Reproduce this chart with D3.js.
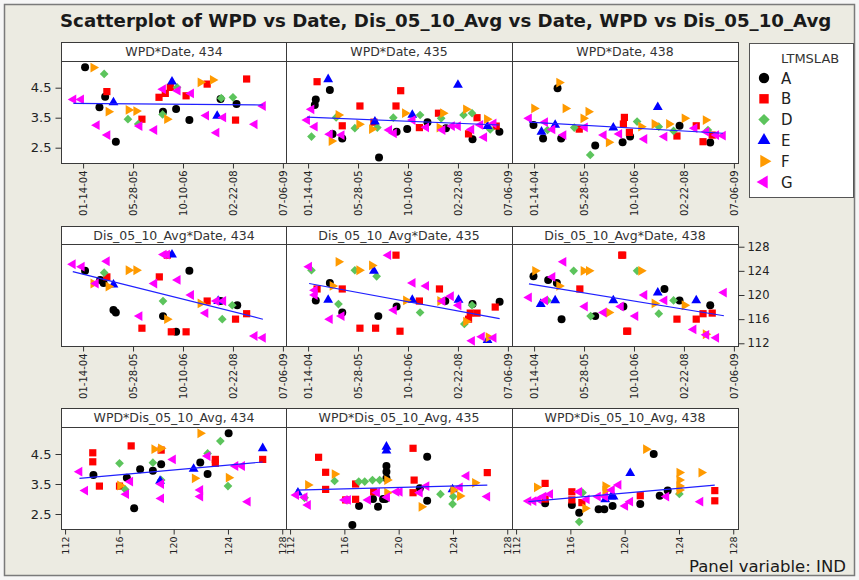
<!DOCTYPE html>
<html>
<head>
<meta charset="utf-8">
<script src="https://cdn.jsdelivr.net/npm/d3@7"></script>
<style>
  body { margin: 0; background: #f6f6f6; }
  text { font-family: "DejaVu Sans", sans-serif; fill: #1a1a1a; }
</style>
</head>
<body>
<svg id="chart" width="859" height="580"></svg>
<script>
// groups (LTMSLAB) and panels (IND)
var labs = ["A", "B", "D", "E", "F", "G"];
var inds = ["434", "435", "438"];
var dateTicks = ["01-14-04", "05-28-05", "10-10-06", "02-22-08", "07-06-09"];
var disTicks = [112, 116, 120, 124, 128];
var wpdTicks = [2.5, 3.5, 4.5];

// WPD vs Date  [date, WPD, lab]
var wpdDate434 = [
  ["2004-02-03",5.18,"A"],["2004-04-26",5.17,"F"],["2004-08-12",4.96,"D"],["2003-10-09",4.11,"G"],
  ["2003-12-25",4.11,"G"],["2004-06-26",3.85,"A"],["2004-08-22",4.20,"A"],["2004-09-08",4.37,"B"],
  ["2004-11-13",4.01,"E"],["2004-09-24",3.70,"F"],["2004-05-30",3.25,"G"],["2004-09-14",2.92,"G"],
  ["2004-12-07",2.70,"A"],["2005-04-13",3.76,"F"],["2005-06-29",3.72,"F"],["2005-04-07",3.45,"D"],
  ["2005-08-25",3.45,"B"],["2005-07-19",3.29,"D"],["2005-08-01",3.22,"G"],["2005-12-27",3.09,"G"],
  ["2006-02-12",4.18,"B"],["2006-04-16",4.31,"B"],["2006-06-05",4.51,"B"],["2006-03-24",4.45,"G"],
  ["2006-06-22",4.70,"E"],["2006-08-12",4.51,"D"],["2006-08-18",4.40,"G"],["2006-03-24",3.70,"A"],
  ["2006-03-20",3.61,"D"],["2006-05-03",3.45,"F"],["2006-08-02",3.79,"A"],["2006-12-13",3.42,"A"],
  ["2006-11-10",4.23,"B"],["2006-12-30",4.31,"G"],["2007-04-03",4.68,"F"],["2007-08-04",4.76,"F"],
  ["2007-06-09",4.62,"B"],["2007-05-30",3.57,"G"],["2007-09-10",3.00,"G"],["2007-09-17",3.56,"E"],
  ["2007-11-17",3.51,"G"],["2007-10-21",4.12,"A"],["2007-10-28",4.15,"D"],["2008-02-22",4.18,"D"],
  ["2008-03-29",3.96,"A"],["2008-03-19",3.42,"B"],["2008-07-08",4.79,"B"],["2008-09-26",3.28,"G"],
  ["2008-12-18",3.89,"G"]
];
var wpdDate435 = [
  ["2004-04-13",4.70,"B"],["2004-08-02",4.78,"E"],["2004-08-19",4.42,"A"],["2004-03-31",4.11,"A"],
  ["2004-03-21",3.92,"A"],["2004-02-17",3.78,"G"],["2004-01-04",3.42,"G"],["2004-03-21",3.20,"G"],
  ["2004-02-17",2.87,"D"],["2004-09-15",2.96,"A"],["2004-12-21",2.81,"A"],["2004-09-05",2.72,"F"],
  ["2004-08-19",2.95,"G"],["2004-12-15",2.92,"G"],["2004-11-13",3.59,"F"],["2004-10-21",3.51,"D"],
  ["2004-12-21",3.23,"B"],["2005-06-16",3.89,"B"],["2005-06-09",3.28,"F"],["2005-04-26",3.15,"D"],
  ["2005-11-13",3.37,"E"],["2005-11-03",3.35,"B"],["2005-10-14",3.12,"F"],["2005-12-07",3.17,"D"],
  ["2005-12-24",2.17,"A"],["2006-05-16",3.50,"D"],["2006-06-12",3.89,"B"],["2006-07-29",4.40,"B"],
  ["2006-04-05",3.09,"G"],["2006-05-22",2.98,"G"],["2006-06-18",3.03,"A"],["2006-09-09",3.65,"F"],
  ["2006-10-02",3.12,"A"],["2006-11-22",3.59,"E"],["2006-11-26",3.42,"G"],["2007-02-08",3.59,"D"],
  ["2007-02-01",3.17,"B"],["2007-04-10",3.18,"G"],["2007-04-23",3.35,"A"],["2007-08-11",3.65,"B"],
  ["2007-09-25",3.65,"F"],["2007-09-07",3.48,"D"],["2007-08-21",3.17,"F"],["2007-10-25",3.15,"A"],
  ["2007-09-21",3.09,"G"],["2007-12-24",3.22,"G"],["2008-02-22",3.22,"G"],["2008-02-22",4.59,"E"],
  ["2008-05-12",3.78,"F"],["2008-04-18",3.59,"D"],["2008-07-12",3.65,"D"],["2008-08-31",3.50,"B"],
  ["2008-07-05",3.11,"G"],["2008-10-03",3.26,"G"],["2008-06-07",2.96,"B"],["2008-07-17",2.78,"A"],
  ["2008-11-11",2.85,"G"],["2008-12-08",3.45,"F"],["2008-12-14",3.22,"E"],["2009-01-10",3.11,"D"],
  ["2009-03-11",3.22,"B"],["2009-02-13",3.31,"G"],["2009-04-12",3.03,"A"]
];
var wpdDate438 = [
  ["2004-09-05",4.48,"A"],["2004-09-21",4.67,"F"],["2004-01-14",3.81,"F"],["2004-11-23",3.81,"F"],
  ["2005-07-10",3.70,"F"],["2005-05-21",3.48,"F"],["2003-11-24",3.48,"G"],["2004-01-08",3.26,"A"],
  ["2004-05-03",3.35,"G"],["2004-08-12",3.26,"E"],["2004-03-28",3.03,"E"],["2004-04-13",2.81,"A"],
  ["2004-05-27",3.09,"D"],["2004-07-16",3.11,"G"],["2004-11-03",2.92,"G"],["2004-10-11",2.81,"A"],
  ["2005-02-19",3.17,"D"],["2005-04-10",3.12,"B"],["2005-06-06",3.18,"G"],["2005-09-17",2.57,"A"],
  ["2005-07-29",2.26,"D"],["2006-01-30",2.68,"F"],["2005-12-11",2.92,"G"],["2006-03-17",3.17,"E"],
  ["2006-05-16",2.96,"G"],["2006-06-18",2.68,"A"],["2006-07-06",3.51,"B"],["2006-06-26",3.29,"B"],
  ["2006-08-25",3.01,"B"],["2006-09-01",2.87,"A"],["2006-11-10",3.37,"D"],["2006-12-20",3.20,"F"],
  ["2007-01-22",2.79,"G"],["2007-06-05",3.85,"E"],["2007-05-03",3.29,"F"],["2007-06-15",3.20,"D"],
  ["2007-08-11",2.87,"G"],["2007-09-25",3.29,"F"],["2007-11-10",3.06,"D"],["2008-01-09",3.23,"A"],
  ["2007-12-14",2.89,"B"],["2008-02-28",3.48,"F"],["2008-06-24",3.23,"B"],["2008-06-07",3.15,"G"],
  ["2008-09-26",3.42,"F"],["2008-08-31",2.70,"B"],["2008-10-03",3.03,"G"],["2009-01-10",2.92,"G"],
  ["2009-03-18",2.90,"G"],["2008-12-01",2.92,"B"],["2008-11-11",2.67,"A"],["2008-10-19",3.09,"D"]
];

// Dis_05_10_Avg vs Date  [date, Dis, lab]
var disDate434 = [
  ["2003-10-03",125.1,"G"],["2004-01-01",124.7,"G"],["2004-02-03",124.0,"A"],["2004-09-08",125.6,"G"],
  ["2004-08-12",123.7,"D"],["2004-09-08",123.0,"B"],["2004-07-03",122.5,"A"],["2004-08-06",122.0,"A"],
  ["2004-04-26",121.9,"F"],["2004-05-21",121.9,"G"],["2004-09-24",121.4,"F"],["2004-11-13",121.7,"E"],
  ["2004-11-13",117.5,"A"],["2004-12-07",117.1,"A"],["2005-04-13",124.1,"F"],["2005-06-29",124.1,"F"],
  ["2005-08-01",116.5,"G"],["2005-08-25",114.5,"B"],["2006-03-24",119.0,"D"],["2006-02-15",123.0,"B"],
  ["2005-12-27",121.9,"G"],["2006-05-06",126.6,"B"],["2006-03-31",126.7,"G"],["2006-05-03",126.7,"G"],
  ["2006-06-22",126.7,"E"],["2006-03-24",116.5,"A"],["2006-05-03",116.0,"F"],["2006-06-15",113.9,"B"],
  ["2006-11-10",113.9,"B"],["2006-08-02",113.9,"A"],["2006-08-18",122.5,"G"],["2006-12-13",124.0,"A"],
  ["2006-12-30",120.0,"G"],["2007-04-03",118.6,"F"],["2007-06-09",119.0,"B"],["2007-05-23",117.0,"G"],
  ["2007-09-10",119.0,"G"],["2007-11-17",119.0,"G"],["2007-09-27",119.0,"E"],["2007-11-07",116.0,"D"],
  ["2008-02-15",118.3,"D"],["2008-04-05",118.3,"A"],["2007-10-21",119.0,"A"],["2008-03-19",116.0,"B"],
  ["2008-07-08",116.9,"B"],["2008-09-26",113.2,"G"],["2008-12-18",112.9,"G"]
];
var disDate435 = [
  ["2004-01-24",124.7,"G"],["2004-02-17",124.1,"D"],["2004-04-13",121.0,"B"],["2004-03-21",120.8,"G"],
  ["2004-03-21",120.0,"G"],["2004-03-31",119.1,"A"],["2004-08-19",122.0,"A"],["2004-09-15",121.5,"F"],
  ["2004-08-02",119.2,"E"],["2004-11-13",118.5,"D"],["2004-11-13",125.5,"F"],["2004-12-21",121.0,"B"],
  ["2004-12-21",117.1,"A"],["2004-12-15",116.5,"G"],["2004-08-19",116.0,"G"],["2005-04-26",124.1,"D"],
  ["2005-06-09",124.1,"F"],["2005-06-16",114.5,"B"],["2005-11-20",114.5,"B"],["2005-10-14",124.9,"F"],
  ["2005-11-03",124.0,"E"],["2005-11-30",123.1,"D"],["2005-12-17",116.5,"A"],["2006-03-27",126.6,"G"],
  ["2006-06-12",126.6,"B"],["2006-07-22",114.0,"B"],["2006-06-18",118.1,"A"],["2006-05-22",117.5,"G"],
  ["2006-09-20",119.1,"F"],["2006-11-22",119.2,"E"],["2007-02-01",119.0,"B"],["2007-02-08",117.1,"D"],
  ["2006-11-26",122.0,"G"],["2007-04-10",121.5,"G"],["2007-08-21",121.0,"B"],["2007-08-28",119.0,"F"],
  ["2007-10-18",119.0,"A"],["2007-09-21",119.0,"G"],["2007-12-14",119.8,"G"],["2008-02-28",119.2,"E"],
  ["2008-02-28",118.3,"G"],["2008-07-12",118.3,"D"],["2008-07-17",118.5,"A"],["2008-06-24",117.0,"B"],
  ["2008-08-31",117.0,"B"],["2008-06-07",116.0,"B"],["2008-04-26",115.2,"D"],["2008-05-13",115.6,"F"],
  ["2008-07-12",112.4,"G"],["2008-10-19",113.1,"G"],["2009-02-13",112.9,"G"],["2008-12-14",112.5,"E"],
  ["2008-12-24",113.0,"F"],["2009-03-01",118.0,"B"],["2009-04-14",118.9,"A"]
];
var disDate438 = [
  ["2003-11-24",119.6,"G"],["2004-01-08",123.1,"A"],["2004-01-24",124.0,"F"],["2004-03-21",118.5,"E"],
  ["2004-05-03",119.1,"G"],["2004-05-27",119.1,"D"],["2004-07-16",123.0,"G"],["2004-08-12",119.1,"E"],
  ["2004-06-03",122.5,"A"],["2004-08-29",122.0,"A"],["2004-09-21",121.5,"F"],["2004-10-15",116.0,"A"],
  ["2004-11-03",125.5,"G"],["2005-02-13",124.0,"D"],["2005-05-23",124.0,"F"],["2005-07-15",124.0,"F"],
  ["2005-04-16",121.0,"B"],["2005-06-06",118.1,"G"],["2005-08-02",116.5,"D"],["2005-09-17",116.5,"A"],
  ["2005-12-11",117.1,"G"],["2006-01-30",117.1,"F"],["2006-03-17",119.1,"E"],["2006-06-01",118.1,"G"],
  ["2006-06-26",118.1,"A"],["2006-06-09",126.6,"B"],["2006-06-19",126.6,"B"],["2006-07-29",114.0,"B"],
  ["2006-08-08",114.0,"B"],["2006-10-24",116.5,"G"],["2006-11-10",124.0,"D"],["2006-12-20",124.0,"F"],
  ["2007-01-22",120.0,"G"],["2007-06-05",120.4,"E"],["2007-05-03",118.6,"F"],["2007-08-11",121.0,"A"],
  ["2007-06-15",116.9,"D"],["2007-08-11",119.1,"G"],["2007-11-10",119.1,"D"],["2008-01-09",119.1,"A"],
  ["2008-02-28",118.3,"F"],["2007-12-14",116.0,"B"],["2008-06-24",119.1,"E"],["2008-06-24",116.0,"B"],
  ["2008-05-28",114.3,"G"],["2008-08-31",116.9,"B"],["2008-12-01",117.0,"B"],["2008-11-11",118.3,"A"],
  ["2008-10-03",113.4,"G"],["2009-01-10",112.9,"G"],["2008-09-26",113.5,"F"],["2009-03-28",120.4,"G"]
];

// WPD vs Dis_05_10_Avg  [Dis, WPD, lab]
var wpdDis434 = [
  [113.06,3.91,"G"],[113.48,3.28,"G"],[114.09,3.80,"A"],[114.04,4.54,"B"],[114.04,4.24,"B"],
  [114.53,3.43,"B"],[116.01,4.19,"D"],[116.01,3.43,"B"],[116.05,3.45,"F"],[116.43,3.32,"D"],
  [116.50,3.16,"G"],[116.55,3.71,"A"],[116.80,3.58,"G"],[116.87,4.77,"B"],[117.09,2.69,"A"],
  [117.53,3.99,"A"],[118.47,3.94,"A"],[118.47,4.21,"D"],[118.57,4.66,"F"],[119.06,4.69,"F"],
  [119.08,4.63,"B"],[119.08,4.16,"A"],[119.08,3.63,"D"],[119.00,3.60,"E"],[119.08,3.50,"G"],
  [119.08,3.02,"G"],[119.95,4.32,"G"],[121.47,4.00,"E"],[121.55,3.69,"F"],[121.96,5.19,"F"],
  [121.96,4.22,"A"],[121.96,3.30,"G"],[121.96,3.08,"G"],[122.50,4.52,"D"],[122.50,4.43,"G"],
  [122.50,3.83,"A"],[123.07,4.32,"B"],[123.07,4.19,"B"],[123.44,4.93,"D"],[124.05,5.19,"A"],
  [124.05,3.71,"F"],[124.00,3.43,"D"],[124.55,4.10,"G"],[125.04,4.10,"G"],[125.46,2.91,"G"],
  [126.56,4.69,"E"],[126.56,4.32,"B"]
];
var wpdDis435 = [
  [112.58,3.21,"E"],[112.45,3.13,"G"],[113.07,3.06,"G"],[113.32,2.80,"G"],[113.32,3.47,"F"],
  [113.07,3.04,"D"],[114.10,4.39,"B"],[114.62,3.89,"B"],[114.62,3.32,"B"],[115.28,3.83,"F"],
  [115.28,3.60,"D"],[116.02,2.97,"G"],[116.27,2.97,"G"],[116.10,2.97,"B"],[116.83,2.99,"B"],
  [116.83,3.50,"B"],[117.08,2.77,"A"],[116.59,2.13,"A"],[117.06,3.58,"D"],[117.50,3.58,"D"],
  [118.07,3.63,"D"],[118.60,3.63,"D"],[117.75,2.97,"G"],[118.11,3.00,"A"],[118.48,2.74,"A"],
  [118.85,3.00,"A"],[118.16,3.24,"B"],[118.41,3.21,"G"],[119.10,4.74,"E"],[119.10,4.61,"E"],
  [119.10,4.10,"A"],[119.10,3.91,"A"],[119.10,3.69,"A"],[119.02,3.00,"A"],[119.15,3.63,"F"],
  [119.15,3.21,"F"],[119.15,3.06,"G"],[119.84,3.24,"G"],[120.08,3.24,"G"],[121.06,4.69,"B"],
  [121.14,3.63,"B"],[121.06,3.21,"B"],[122.10,4.41,"A"],[121.56,3.36,"A"],[121.56,3.21,"G"],
  [122.05,3.43,"G"],[122.10,2.94,"A"],[121.68,2.74,"F"],[123.08,3.16,"D"],[124.02,3.08,"D"],
  [123.97,2.83,"D"],[124.02,3.30,"F"],[124.51,3.10,"F"],[123.97,3.32,"E"],[124.51,3.39,"G"],
  [125.00,3.77,"G"],[125.62,3.54,"F"],[126.53,3.88,"B"],[126.53,3.08,"G"]
];
var wpdDis438 = [
  [112.91,2.93,"G"],[113.28,2.93,"G"],[113.65,2.99,"G"],[113.53,3.39,"F"],[114.14,3.52,"B"],
  [114.14,3.00,"B"],[114.14,2.86,"A"],[114.02,3.08,"G"],[114.51,3.16,"G"],[116.11,3.24,"B"],
  [116.11,2.97,"B"],[116.11,2.80,"A"],[116.65,3.24,"G"],[116.90,3.21,"D"],[116.65,2.24,"D"],
  [116.85,2.88,"B"],[116.65,2.54,"A"],[117.09,2.69,"F"],[117.21,2.99,"G"],[118.08,2.66,"A"],
  [118.50,2.66,"A"],[118.03,3.08,"G"],[118.57,3.08,"G"],[118.57,3.43,"F"],[118.57,3.28,"F"],
  [118.57,2.99,"E"],[119.01,3.08,"E"],[119.18,3.08,"E"],[119.11,2.77,"A"],[119.06,3.30,"G"],
  [119.55,3.47,"G"],[120.04,2.77,"G"],[120.41,2.91,"G"],[120.41,3.86,"E"],[121.15,3.11,"B"],
  [121.15,2.83,"A"],[121.57,4.66,"F"],[122.14,4.50,"A"],[122.58,3.11,"A"],[123.17,3.28,"A"],
  [123.07,3.08,"G"],[124.03,3.88,"F"],[124.03,3.63,"F"],[124.03,3.43,"F"],[124.03,3.17,"D"],
  [124.03,3.30,"F"],[125.65,3.88,"F"],[125.58,2.91,"G"],[126.64,3.28,"B"],[126.64,2.94,"B"]
];

// ---- look ----
var labColors = {A: "#000000", B: "#ff0000", D: "#5cc45c", E: "#0000ff", F: "#ff9a00", G: "#ff00ff"};
// symbol type, rotation, area
var labShapes = {
  A: [d3.symbolCircle, 0, 50],
  B: [d3.symbolSquare, 0, 52],
  D: [d3.symbolSquare, 45, 38],
  E: [d3.symbolTriangle, 0, 42],
  F: [d3.symbolTriangle, 90, 42],
  G: [d3.symbolTriangle, -90, 42]
};

var parseDate = d3.timeParse("%Y-%m-%d");
var parseTick = d3.timeParse("%m-%d-%y");

var colLeft = [61, 286, 512], colW = 226;
var rows = [
  {head: 42, top: 61, bottom: 163},
  {head: 226, top: 244, bottom: 346},
  {head: 408, top: 427, bottom: 529}
];
var yDomains = [[1.99, 5.39], [111.55, 128.45], [2.0, 5.4]];
var dateDomain = [parseDate("2003-06-07"), parseDate("2009-08-16")];
var disDomain = [111.7, 128.35];

var svg = d3.select("#chart");

// background frame
svg.append("rect")
  .attr("x", 4.5).attr("y", 4.5)
  .attr("width", 850).attr("height", 571)
  .attr("fill", "#ecebe2")
  .attr("stroke", "#7a7a7a").attr("stroke-width", 1.5);

svg.append("text")
  .attr("x", 60).attr("y", 27)
  .style("font-size", "18.2px").style("font-weight", "bold")
  .text("Scatterplot of WPD vs Date, Dis_05_10_Avg vs Date, WPD vs Dis_05_10_Avg");

var panels = [
  {row: 0, title: "WPD*Date", sets: [wpdDate434, wpdDate435, wpdDate438], xKind: "date"},
  {row: 1, title: "Dis_05_10_Avg*Date", sets: [disDate434, disDate435, disDate438], xKind: "date"},
  {row: 2, title: "WPD*Dis_05_10_Avg", sets: [wpdDis434, wpdDis435, wpdDis438], xKind: "dis"}
];

function fitLine(pts) {
  var mx = d3.mean(pts, function(p) { return p[0]; }),
      my = d3.mean(pts, function(p) { return p[1]; });
  var sxy = d3.sum(pts, function(p) { return (p[0] - mx) * (p[1] - my); }),
      sxx = d3.sum(pts, function(p) { return (p[0] - mx) * (p[0] - mx); });
  var b = sxy / sxx, a = my - b * mx;
  var x0 = d3.min(pts, function(p) { return p[0]; }),
      x1 = d3.max(pts, function(p) { return p[0]; });
  return [[x0, a + b * x0], [x1, a + b * x1]];
}

function symbolPath(lab, scale) {
  var s = labShapes[lab];
  return d3.symbol().type(s[0]).size(s[2] * (scale || 1))();
}

panels.forEach(function(p) {
  var r = rows[p.row];
  var y = d3.scaleLinear().domain(yDomains[p.row]).range([r.bottom, r.top]);

  inds.forEach(function(ind, c) {
    var left = colLeft[c];
    var x = p.xKind == "date"
      ? d3.scaleTime().domain(dateDomain).range([left, left + colW])
      : d3.scaleLinear().domain(disDomain).range([left, left + colW]);

    var g = svg.append("g");

    // header strip
    g.append("rect")
      .attr("x", left + 0.5).attr("y", r.head + 0.5)
      .attr("width", colW).attr("height", r.top - r.head)
      .attr("fill", "#ffffff").attr("stroke", "#3a3a3a");
    g.append("text")
      .attr("x", left + colW / 2).attr("y", r.head + 14)
      .attr("text-anchor", "middle")
      .style("font-size", "12.5px").style("fill", "#333")
      .text(p.title + ", " + ind);

    // plot area
    g.append("rect")
      .attr("x", left + 0.5).attr("y", r.top + 0.5)
      .attr("width", colW).attr("height", r.bottom - r.top)
      .attr("fill", "#ffffff").attr("stroke", "#3a3a3a");

    // x axis
    var xAxis = d3.axisBottom(x).tickSize(5).tickSizeOuter(0);
    if (p.xKind == "date") {
      xAxis.tickValues(dateTicks.map(parseTick)).tickFormat(d3.timeFormat("%m-%d-%y"));
    } else {
      xAxis.tickValues(disTicks).tickFormat(d3.format("d"));
    }
    var xa = g.append("g")
      .attr("transform", "translate(0," + (r.bottom + 0.5) + ")")
      .call(xAxis);
    xa.select(".domain").remove();
    xa.selectAll("line").attr("stroke", "#333");
    xa.selectAll("text")
      .attr("transform", "rotate(-90)")
      .attr("x", -7).attr("y", 0).attr("dy", "0.35em")
      .attr("text-anchor", "end")
      .style("font-family", "DejaVu Sans")
      .style("font-size", p.xKind == "date" ? "10px" : "9.5px")
      .style("fill", "#222");

    // y axes: WPD on the left of the first panel, Dis on the right of the last
    if (p.row != 1 && c == 0) {
      var ya = g.append("g")
        .attr("transform", "translate(" + (left + 0.5) + ",0)")
        .call(d3.axisLeft(y).tickValues(wpdTicks).tickFormat(d3.format(".1f")).tickSize(6).tickSizeOuter(0));
      ya.select(".domain").remove();
      ya.selectAll("line").attr("stroke", "#333");
      ya.selectAll("text").attr("x", -10)
        .style("font-family", "DejaVu Sans").style("font-size", "13px").style("fill", "#222");
    }
    if (p.row == 1 && c == 2) {
      var yr = g.append("g")
        .attr("transform", "translate(" + (left + colW + 0.5) + ",0)")
        .call(d3.axisRight(y).tickValues(disTicks).tickSize(6).tickSizeOuter(0));
      yr.select(".domain").remove();
      yr.selectAll("line").attr("stroke", "#333");
      yr.selectAll("text").attr("x", 9)
        .style("font-family", "DejaVu Sans").style("font-size", "11.5px").style("fill", "#222");
    }

    // points
    var rowsData = p.sets[c].map(function(d) {
      return {x: p.xKind == "date" ? parseDate(d[0]) : d[0], y: d[1], lab: d[2]};
    });
    rowsData.sort(function(a, b) { return labs.indexOf(a.lab) - labs.indexOf(b.lab); });

    g.selectAll("path.pt")
      .data(rowsData)
      .enter()
      .append("path")
        .attr("class", "pt")
        .attr("d", function(d) { return symbolPath(d.lab); })
        .attr("transform", function(d) {
          return "translate(" + x(d.x) + "," + y(d.y) + ") rotate(" + labShapes[d.lab][1] + ")";
        })
        .attr("fill", function(d) { return labColors[d.lab]; });

    // least squares fit line
    var fit = fitLine(rowsData.map(function(d) { return [+d.x, d.y]; }));
    g.append("line")
      .attr("x1", x(fit[0][0])).attr("y1", y(fit[0][1]))
      .attr("x2", x(fit[1][0])).attr("y2", y(fit[1][1]))
      .attr("stroke", "#2020ff").attr("stroke-width", 1.2);
  });
});

// legend
var legend = svg.append("g").attr("class", "legend");
legend.append("rect")
  .attr("x", 749.5).attr("y", 43.5)
  .attr("width", 104).attr("height", 154)
  .attr("fill", "#ffffff").attr("stroke", "#555");
legend.append("text")
  .attr("x", 781).attr("y", 63)
  .style("font-size", "13px").style("fill", "#333")
  .text("LTMSLAB");
labs.forEach(function(lab, i) {
  var cy = 78 + i * 20.8;
  legend.append("path")
    .attr("d", symbolPath(lab, 1.7))
    .attr("transform", "translate(764," + cy + ") rotate(" + labShapes[lab][1] + ")")
    .attr("fill", labColors[lab]);
  legend.append("text")
    .attr("x", 781).attr("y", cy + 5.5)
    .style("font-size", "15px").style("fill", "#222")
    .text(lab);
});

svg.append("text")
  .attr("x", 846).attr("y", 572)
  .attr("text-anchor", "end")
  .style("font-size", "16.5px")
  .text("Panel variable: IND");
</script>
</body>
</html>
